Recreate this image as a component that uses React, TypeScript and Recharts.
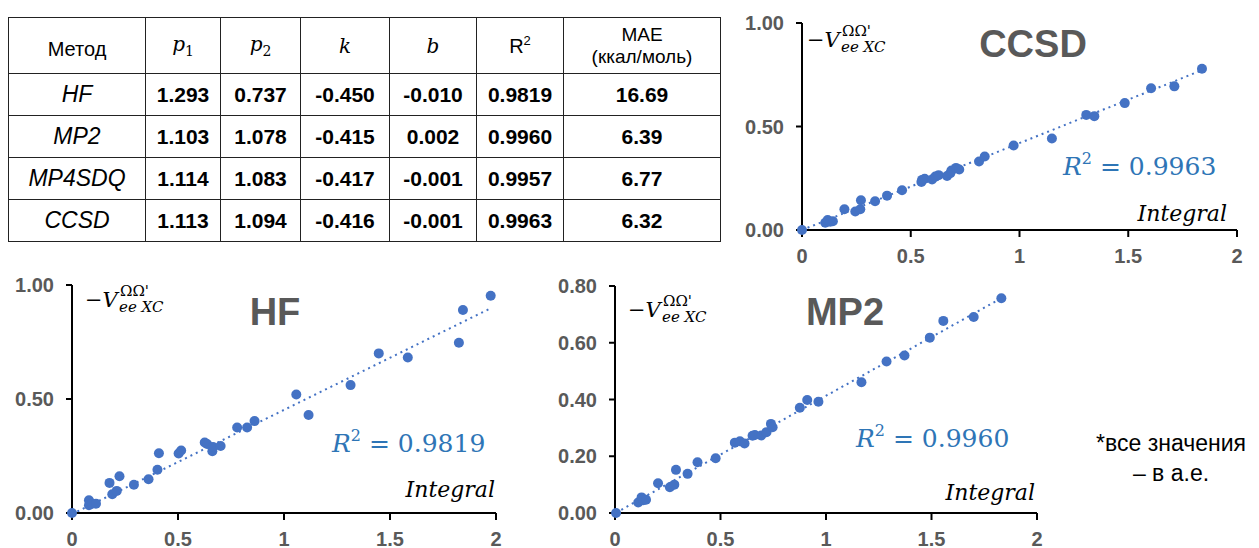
import React from "react";
import { ScatterChart, Scatter, XAxis, YAxis, ReferenceLine } from "recharts";

// table values
const methods = ["HF", "MP2", "MP4SDQ", "CCSD"];
const p1Values = ["1.293", "1.103", "1.114", "1.113"];
const p2Values = ["0.737", "1.078", "1.083", "1.094"];
const kValues = ["-0.450", "-0.415", "-0.417", "-0.416"];
const bValues = ["-0.010", "0.002", "-0.001", "-0.001"];
const r2Values = ["0.9819", "0.9960", "0.9957", "0.9963"];
const maeValues = ["16.69", "6.39", "6.77", "6.32"];

// scatter points (Integral, -V)
const ccsdPoints = [
  { x: 0, y: 0 }, { x: 0.107, y: 0.035 }, { x: 0.118, y: 0.048 }, { x: 0.13, y: 0.04 },
  { x: 0.142, y: 0.042 }, { x: 0.195, y: 0.1 }, { x: 0.245, y: 0.089 }, { x: 0.268, y: 0.1 },
  { x: 0.271, y: 0.144 }, { x: 0.336, y: 0.139 }, { x: 0.391, y: 0.166 }, { x: 0.46, y: 0.192 },
  { x: 0.549, y: 0.232 }, { x: 0.552, y: 0.242 }, { x: 0.564, y: 0.248 }, { x: 0.598, y: 0.244 },
  { x: 0.613, y: 0.258 }, { x: 0.628, y: 0.265 }, { x: 0.667, y: 0.261 }, { x: 0.682, y: 0.274 },
  { x: 0.687, y: 0.287 }, { x: 0.708, y: 0.3 }, { x: 0.723, y: 0.292 }, { x: 0.814, y: 0.331 },
  { x: 0.84, y: 0.355 }, { x: 0.973, y: 0.408 }, { x: 1.149, y: 0.442 }, { x: 1.307, y: 0.556 },
  { x: 1.344, y: 0.55 }, { x: 1.484, y: 0.613 }, { x: 1.605, y: 0.685 }, { x: 1.712, y: 0.694 },
  { x: 1.839, y: 0.779 },
];
const ccsdTrend = [{ x: 0, y: 0 }, { x: 1.839, y: 0.772 }];

const hfPoints = [
  { x: 0, y: 0 }, { x: 0.08, y: 0.056 }, { x: 0.08, y: 0.034 }, { x: 0.095, y: 0.041 },
  { x: 0.113, y: 0.041 }, { x: 0.177, y: 0.132 }, { x: 0.19, y: 0.082 }, { x: 0.211, y: 0.097 },
  { x: 0.224, y: 0.161 }, { x: 0.292, y: 0.124 }, { x: 0.361, y: 0.148 }, { x: 0.403, y: 0.19 },
  { x: 0.41, y: 0.262 }, { x: 0.503, y: 0.261 }, { x: 0.515, y: 0.274 }, { x: 0.626, y: 0.309 },
  { x: 0.637, y: 0.303 }, { x: 0.662, y: 0.271 }, { x: 0.665, y: 0.29 }, { x: 0.701, y: 0.294 },
  { x: 0.779, y: 0.375 }, { x: 0.826, y: 0.375 }, { x: 0.861, y: 0.403 }, { x: 1.058, y: 0.52 },
  { x: 1.116, y: 0.43 }, { x: 1.314, y: 0.561 }, { x: 1.447, y: 0.7 }, { x: 1.584, y: 0.682 },
  { x: 1.825, y: 0.747 }, { x: 1.844, y: 0.89 }, { x: 1.975, y: 0.953 },
];
const hfTrend = [{ x: 0, y: -0.005 }, { x: 1.975, y: 0.898 }];

const mp2Points = [
  { x: 0.005, y: 0 }, { x: 0.11, y: 0.037 }, { x: 0.126, y: 0.055 }, { x: 0.134, y: 0.045 },
  { x: 0.147, y: 0.047 }, { x: 0.204, y: 0.105 }, { x: 0.26, y: 0.091 }, { x: 0.281, y: 0.1 },
  { x: 0.289, y: 0.152 }, { x: 0.344, y: 0.138 }, { x: 0.391, y: 0.179 }, { x: 0.477, y: 0.193 },
  { x: 0.568, y: 0.248 }, { x: 0.592, y: 0.253 }, { x: 0.614, y: 0.245 }, { x: 0.652, y: 0.272 },
  { x: 0.663, y: 0.275 }, { x: 0.693, y: 0.273 }, { x: 0.718, y: 0.285 }, { x: 0.739, y: 0.314 },
  { x: 0.747, y: 0.302 }, { x: 0.876, y: 0.371 }, { x: 0.911, y: 0.398 }, { x: 0.964, y: 0.392 },
  { x: 1.168, y: 0.461 }, { x: 1.287, y: 0.534 }, { x: 1.372, y: 0.555 }, { x: 1.492, y: 0.618 },
  { x: 1.556, y: 0.677 }, { x: 1.7, y: 0.691 }, { x: 1.831, y: 0.757 },
];
const mp2Trend = [{ x: 0.005, y: 0.001 }, { x: 1.831, y: 0.757 }];

const xTicks = [0, 0.5, 1, 1.5, 2];
const yTicksUnit = [0, 0.5, 1];
const yTicksMp2 = [0, 0.2, 0.4, 0.6, 0.8];

const BLUE = "#4472C4";
const R2_BLUE = "#2E75B6";
const GRAY = "#595959";
const SANS = "'Liberation Sans', Arial, sans-serif";
const SERIF = "'DejaVu Serif', serif";

const tickStyle = { fill: GRAY, fontSize: 20, fontWeight: 700, fontFamily: SANS };

function Dot(props: any) {
  return <circle cx={props.cx} cy={props.cy} r={5} fill={BLUE} />;
}

interface PanelProps {
  left: number;
  top: number;
  width: number;
  height: number;
  margin: { top: number; right: number; bottom: number; left: number };
  points: { x: number; y: number }[];
  trend: { x: number; y: number }[];
  yMax: number;
  yTicks: number[];
  title: string;
  titleX: number;
  titleY: number;
  r2: string;
  r2X: number;
  r2Y: number;
  intX: number;
  intY: number;
  labX: number;
  labY: number;
}

function Panel(p: PanelProps) {
  return (
    <div style={{ position: "absolute", left: p.left, top: p.top, width: p.width, height: p.height }}>
      <ScatterChart width={p.width} height={p.height} margin={p.margin}>
        <XAxis
          type="number"
          dataKey="x"
          domain={[0, 2]}
          ticks={xTicks}
          height={30}
          axisLine={{ stroke: "#000", strokeWidth: 2 }}
          tickLine={{ stroke: "#000", strokeWidth: 2 }}
          tickSize={7}
          tickMargin={12}
          tick={tickStyle}
        />
        <YAxis
          type="number"
          dataKey="y"
          domain={[0, p.yMax]}
          ticks={p.yTicks}
          width={72}
          axisLine={{ stroke: "#000", strokeWidth: 2 }}
          tickLine={{ stroke: "#000", strokeWidth: 2 }}
          tickSize={6}
          tickMargin={12}
          tick={tickStyle}
          tickFormatter={(v: number) => v.toFixed(2)}
        />
        <Scatter data={p.points} shape={<Dot />} isAnimationActive={false} />
        <ReferenceLine
          segment={p.trend}
          stroke={BLUE}
          strokeWidth={2}
          strokeDasharray="2 4"
          ifOverflow="visible"
        />
      </ScatterChart>
      <svg
        width={p.width}
        height={p.height}
        style={{ position: "absolute", left: 0, top: 0, pointerEvents: "none" }}
      >
        <text x={p.titleX} y={p.titleY} textAnchor="middle" fill={GRAY} fontFamily={SANS} fontWeight={700} fontSize={38}>
          {p.title}
        </text>
        <text x={p.r2X} y={p.r2Y} fill={R2_BLUE} fontFamily={SERIF} fontSize={25}>
          <tspan fontStyle="italic">R</tspan>
          <tspan fontSize={16} dy={-11}>2</tspan>
          <tspan dy={11}> = {p.r2}</tspan>
        </text>
        <text x={p.intX} y={p.intY} textAnchor="end" fill="#000" fontFamily={SERIF} fontStyle="italic" fontSize={22}>
          Integral
        </text>
        <text x={p.labX} y={p.labY} fill="#000" fontFamily={SERIF} fontSize={21}>
          −<tspan fontStyle="italic">V</tspan>
        </text>
        <text x={p.labX + 35} y={p.labY - 11} fill="#000" fontFamily={SERIF} fontSize={15}>
          ΩΩ'
        </text>
        <text x={p.labX + 34} y={p.labY + 5} fill="#000" fontFamily={SERIF} fontStyle="italic" fontSize={15}>
          ee XC
        </text>
      </svg>
    </div>
  );
}

const cell: React.CSSProperties = {
  border: "1.5px solid #222",
  textAlign: "center",
  verticalAlign: "middle",
  padding: 0,
};

function ParamTable() {
  const num: React.CSSProperties = { ...cell, fontWeight: 700, fontSize: 21 };
  const mathHead: React.CSSProperties = { ...cell, fontFamily: SERIF, fontStyle: "italic", fontSize: 20 };
  return (
    <table
      style={{
        position: "absolute",
        left: 8,
        top: 17,
        borderCollapse: "collapse",
        fontFamily: SANS,
        color: "#000",
        tableLayout: "fixed",
        width: 712,
      }}
    >
      <colgroup>
        <col style={{ width: 137 }} />
        <col style={{ width: 75 }} />
        <col style={{ width: 80 }} />
        <col style={{ width: 89 }} />
        <col style={{ width: 87 }} />
        <col style={{ width: 87 }} />
        <col style={{ width: 157 }} />
      </colgroup>
      <tbody>
        <tr style={{ height: 56 }}>
          <td style={{ ...cell, fontSize: 20, paddingTop: 8 }}>Метод</td>
          <td style={mathHead}>
            p<sub style={{ fontStyle: "normal", fontSize: 14 }}>1</sub>
          </td>
          <td style={mathHead}>
            p<sub style={{ fontStyle: "normal", fontSize: 14 }}>2</sub>
          </td>
          <td style={mathHead}>k</td>
          <td style={mathHead}>b</td>
          <td style={{ ...cell, fontSize: 20 }}>
            R<sup style={{ fontSize: 13 }}>2</sup>
          </td>
          <td style={{ ...cell, fontSize: 19, lineHeight: "22px" }}>
            МАЕ
            <br />
            (ккал/моль)
          </td>
        </tr>
        {methods.map((m, i) => (
          <tr key={m} style={{ height: 42 }}>
            <td style={{ ...cell, fontStyle: "italic", fontSize: 23 }}>{m}</td>
            <td style={num}>{p1Values[i]}</td>
            <td style={num}>{p2Values[i]}</td>
            <td style={num}>{kValues[i]}</td>
            <td style={num}>{bValues[i]}</td>
            <td style={num}>{r2Values[i]}</td>
            <td style={num}>{maeValues[i]}</td>
          </tr>
        ))}
      </tbody>
    </table>
  );
}

export default function App() {
  return (
    <div
      style={{
        position: "absolute",
        left: 0,
        top: 0,
        width: 1259,
        height: 548,
        background: "#fff",
        overflow: "hidden",
        fontFamily: SANS,
      }}
    >
      <ParamTable />
      <Panel
        left={730}
        top={0}
        width={529}
        height={270}
        margin={{ top: 23, right: 22, bottom: 10, left: 0 }}
        points={ccsdPoints}
        trend={ccsdTrend}
        yMax={1}
        yTicks={yTicksUnit}
        title="CCSD"
        titleX={303}
        titleY={57}
        r2="0.9963"
        r2X={333}
        r2Y={175}
        intX={497}
        intY={221}
        labX={77}
        labY={47}
      />
      <Panel
        left={0}
        top={262}
        width={520}
        height={286}
        margin={{ top: 23, right: 24, bottom: 5, left: 0 }}
        points={hfPoints}
        trend={hfTrend}
        yMax={1}
        yTicks={yTicksUnit}
        title="HF"
        titleX={275}
        titleY={63}
        r2="0.9819"
        r2X={332}
        r2Y={190}
        intX={495}
        intY={235}
        labX={85}
        labY={45}
      />
      <Panel
        left={543}
        top={262}
        width={516}
        height={286}
        margin={{ top: 24, right: 22, bottom: 5, left: 0 }}
        points={mp2Points}
        trend={mp2Trend}
        yMax={0.8}
        yTicks={yTicksMp2}
        title="MP2"
        titleX={302}
        titleY={63}
        r2="0.9960"
        r2X={313}
        r2Y={185}
        intX={492}
        intY={238}
        labX={85}
        labY={55}
      />
      <div
        style={{
          position: "absolute",
          left: 1078,
          top: 428,
          width: 186,
          textAlign: "center",
          fontSize: 23,
          lineHeight: "30px",
          color: "#000",
        }}
      >
        *все значения
        <br />– в а.е.
      </div>
    </div>
  );
}
